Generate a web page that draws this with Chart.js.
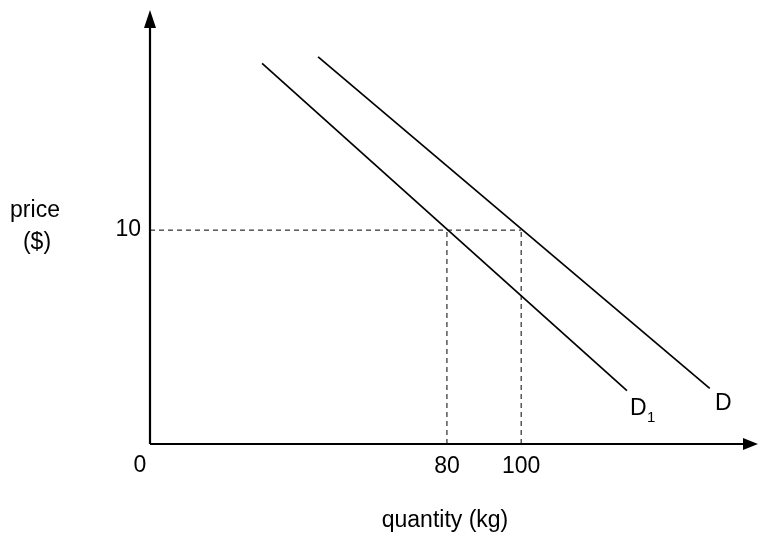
<!DOCTYPE html>
<html><head><meta charset="utf-8">
<script src="https://cdn.jsdelivr.net/npm/chart.js@4"></script>
<style>body{margin:0;background:#fff}canvas{display:block}</style>
</head><body>
<canvas id="c" width="758" height="535"></canvas>
<script>
const lineD = [[45.3,18.1],[150.8,2.6]];
const lineD1 = [[30.2,17.8],[128.5,2.5]];
const refPrice = 10;
const refQty = [80,100];
const xTickLabels = ["80","100"];
const yTickLabels = ["10"];
const pts = a => a.map(p=>({x:p[0],y:p[1]}));
const solid = {borderColor:'#000',borderWidth:1.7,pointRadius:0,showLine:true,fill:false};
const dash = {borderColor:'#000',borderWidth:1,borderDash:[5,4],pointRadius:0,showLine:true,fill:false};
const F = '"Liberation Sans", Arial, sans-serif';
const deco = {
  id:'deco',
  afterDraw(ch){
    const c=ch.ctx, x=ch.scales.x, y=ch.scales.y;
    const ox=x.getPixelForValue(0), oy=y.getPixelForValue(0);
    c.save();
    c.strokeStyle='#000'; c.fillStyle='#000'; c.lineWidth=2.2;
    c.beginPath(); c.moveTo(ox,oy); c.lineTo(745,oy); c.moveTo(ox,oy); c.lineTo(ox,25); c.stroke();
    c.beginPath(); c.moveTo(758,oy); c.lineTo(743,oy-6); c.lineTo(743,oy+6); c.closePath(); c.fill();
    c.beginPath(); c.moveTo(ox,10); c.lineTo(ox-6,28); c.lineTo(ox+6,28); c.closePath(); c.fill();
    c.font='23px '+F; c.textBaseline='middle';
    c.textAlign='center';
    refQty.forEach((q,i)=>c.fillText(xTickLabels[i], x.getPixelForValue(q), 467));
    c.fillText('0', 140, 466);
    c.textAlign='right';
    c.fillText(yTickLabels[0], 141, y.getPixelForValue(refPrice));
    c.textAlign='center';
    c.fillText('price', 35, 211);
    c.fillText('($)', 37, 243);
    c.fillText('quantity (kg)', 445, 521);
    c.textAlign='left';
    c.fillText('D', 715, 404);
    c.fillText('D', 630, 409);
    c.font='15px '+F;
    c.fillText('1', 647, 418);
    c.restore();
  }
};
new Chart(document.getElementById('c'),{
  type:'scatter',
  data:{datasets:[
    {...solid,data:pts(lineD)},
    {...solid,data:pts(lineD1)},
    {...dash,data:[{x:0,y:refPrice},{x:refQty[1],y:refPrice}]},
    {...dash,data:[{x:refQty[0],y:0},{x:refQty[0],y:refPrice}]},
    {...dash,data:[{x:refQty[1],y:0},{x:refQty[1],y:refPrice}]}
  ]},
  options:{responsive:false,animation:false,
    layout:{padding:{left:150,right:3,top:12,bottom:91}},
    plugins:{legend:{display:false},tooltip:{enabled:false}},
    scales:{x:{type:'linear',display:false,min:0,max:163},y:{type:'linear',display:false,min:0,max:20.2}}
  },
  plugins:[deco]
});
</script>
</body></html>
